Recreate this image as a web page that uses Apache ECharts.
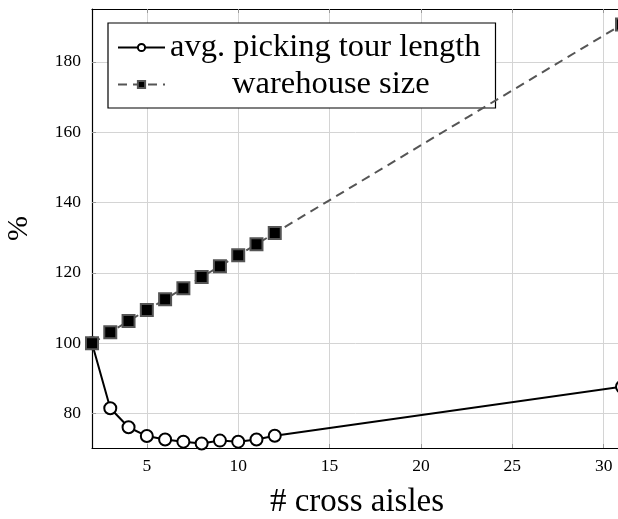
<!DOCTYPE html>
<html>
<head>
<meta charset="utf-8">
<script src="https://cdn.jsdelivr.net/npm/echarts@6/dist/echarts.min.js"></script>
<style>
html,body{margin:0;padding:0;background:#fff;overflow:hidden;}
#c{width:618px;height:519px;}
</style>
</head>
<body>
<div id="c"></div>
<script>
const crossAisles = [2, 3, 4, 5, 6, 7, 8, 9, 10, 11, 12, 31];
const avgTourLength = [100, 81.5, 76.1, 73.6, 72.6, 72.0, 71.5, 72.3, 72.0, 72.6, 73.7, 87.6];
const warehouseSize = [100, 103.1, 106.3, 109.4, 112.5, 115.6, 118.8, 121.9, 125.0, 128.1, 131.3, 190.6];
const xTicks = [5, 10, 15, 20, 25, 30];
const yTicks = [80, 100, 120, 140, 160, 180];
const seriesNames = ['avg. picking tour length', 'warehouse size'];

const serif = 'Liberation Serif, DejaVu Serif, serif';
const chart = echarts.init(document.getElementById('c'), null, {renderer: 'canvas'});

function xAxisCfg(pos, showLabels) {
  return {
    type: 'value', position: pos, min: 2, max: 31,
    axisLine: {show: true, onZero: false, lineStyle: {color: '#000', width: 1.2}},
    axisTick: {show: true, inside: true, length: 4, customValues: xTicks, lineStyle: {color: '#999', width: 1}},
    axisLabel: {show: showLabels, customValues: xTicks, fontFamily: serif, fontSize: 17.5, color: '#000', margin: 9},
    splitLine: {show: showLabels, lineStyle: {color: '#d4d4d4', width: 1}},
    name: showLabels ? '# cross aisles' : '', nameLocation: 'middle', nameGap: 38,
    nameTextStyle: {fontFamily: serif, fontSize: 33, color: '#000'}
  };
}
function yAxisCfg(pos, showLabels) {
  return {
    type: 'value', position: pos, min: 70.2, max: 195,
    axisLine: {show: true, onZero: false, lineStyle: {color: '#000', width: 1.2}},
    axisTick: {show: true, inside: true, length: 4, customValues: yTicks, lineStyle: {color: '#999', width: 1}},
    axisLabel: {show: showLabels, customValues: yTicks, fontFamily: serif, fontSize: 17.5, color: '#000', margin: 11},
    splitLine: {show: showLabels, lineStyle: {color: '#d4d4d4', width: 1}},
    name: showLabels ? '%' : '', nameLocation: 'middle', nameGap: 58, nameRotate: 90,
    nameTextStyle: {fontFamily: serif, fontSize: 30, color: '#000'}
  };
}

chart.setOption({
  animation: false,
  backgroundColor: '#fff',
  grid: {left: 92, right: -4, top: 9, bottom: 71, containLabel: false, outerBoundsMode: 'none'},
  xAxis: [xAxisCfg('bottom', true), xAxisCfg('top', false)],
  yAxis: [yAxisCfg('left', true), yAxisCfg('right', false)],
  legend: {
    orient: 'vertical', left: 108, top: 23,
    data: seriesNames,
    padding: [8, 15, 7, 9],
    itemGap: 4, itemWidth: 47, itemHeight: 9,
    backgroundColor: '#fff', borderColor: '#000', borderWidth: 1.2,
    textStyle: {fontFamily: serif, fontSize: 32.5, lineHeight: 32, color: '#000',
      rich: {pad: {width: 62, fontSize: 32.5, lineHeight: 32}, t: {fontFamily: serif, fontSize: 32.5, lineHeight: 32, color: '#000'}}},
    formatter: function (name) {
      return name === seriesNames[1] ? '{pad| }{t|' + name + '}' : '{t|' + name + '}';
    }
  },
  series: [
    {
      name: seriesNames[0], type: 'line', z: 3,
      data: crossAisles.map((x, i) => [x, avgTourLength[i]]),
      lineStyle: {color: '#000', width: 2},
      symbol: 'circle', symbolSize: 12,
      itemStyle: {color: '#fff', borderColor: '#000', borderWidth: 2},
      clip: false
    },
    {
      name: seriesNames[1], type: 'line', z: 4,
      data: crossAisles.map((x, i) => [x, warehouseSize[i]]),
      lineStyle: {color: '#555', width: 2, type: [9, 6]},
      symbol: 'rect', symbolSize: 12,
      itemStyle: {color: '#000', borderColor: '#555', borderWidth: 2},
      clip: false
    }
  ]
});
</script>
</body>
</html>
